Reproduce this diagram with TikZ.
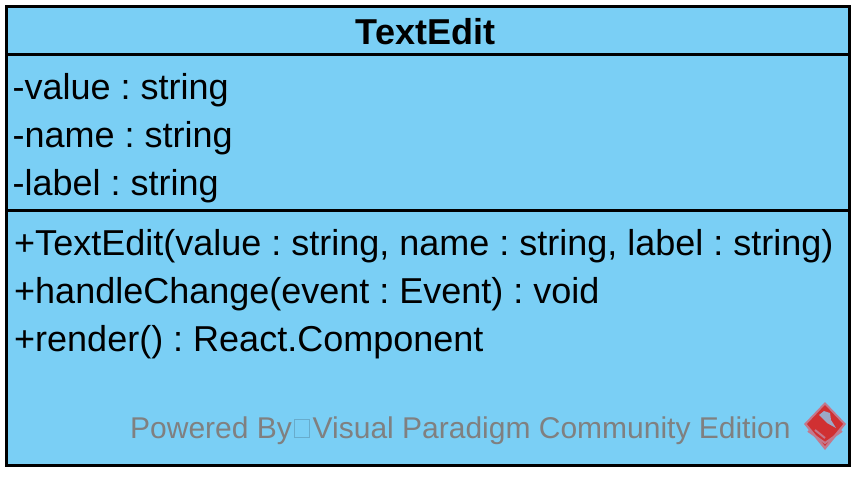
\documentclass[tikz,border=0pt]{standalone}
\usepackage{fontspec}
\setmainfont{Liberation Sans}
\definecolor{classfill}{RGB}{122,207,245}
\definecolor{markgray}{RGB}{128,128,128}
\definecolor{tofuline}{RGB}{104,172,204}
\definecolor{logored}{RGB}{208,48,50}
\definecolor{logopale}{RGB}{196,120,140}
\tikzset{
 member/.style={anchor=base west,inner sep=0pt,font=\fontsize{36}{40}\selectfont\frenchspacing},
 classtitle/.style={anchor=base,inner sep=0pt,font=\fontsize{36}{40}\selectfont\bfseries},
 stamp/.style={anchor=base west,inner sep=0pt,text=markgray,font=\fontsize{30}{36}\selectfont}
}
\begin{document}
\begin{tikzpicture}[x=1pt,y=-1pt]
 	\useasboundingbox (0,0) rectangle (861,477);
 	\draw[line width=3pt,fill=classfill] (6.2,6.2) rectangle (849.6,465.4);
 	\draw[line width=3pt]
 	(6.2,54)--(849.6,54) (6.2,210)--(849.6,210);
 	\node[classtitle] (name) at (425.5,44) {TextEdit};
 	\foreach \y/\n/\texn in {99/a/-value : string,
 		147/b/-name : string,195/c/-label : string} \path
 	(12.5,\y) node[member](\n){\texn};
 	\foreach \y/\n/\texn in {
 		255/d/{+TextEdit(value : string, name : string, label : string)},
 		303/e/+handleChange(event : Event) : void,
 		351/f/+render() : React.Component} \path
 	(14,\y) node[member](\n){\texn};
 	\node[stamp] (powered) at (130,438) {Powered By};
 	\draw[tofuline,line width=0.8pt] (294.5,419.5) rectangle (309.5,437.5);
 	\node[stamp] (visual) at (312.5,438) {Visual Paradigm Community Edition};
 	% logo
 	\fill[logopale] (825,402)--(846,424)--(825,450)--(804,424)--cycle;
 	\fill[logored] (825,405)--(843,424)--(825,446)--(807,424)--cycle;
 	\draw[logopale,line width=2pt] (808,431)--(825,443)--(842,431) (815,430)--(825,438);
 	\fill[classfill!55!logopale] (819,415)--(824,411)--(830,413)--(831,420)--(836,428)--(827,423)--cycle;
\end{tikzpicture}
\end{document}
